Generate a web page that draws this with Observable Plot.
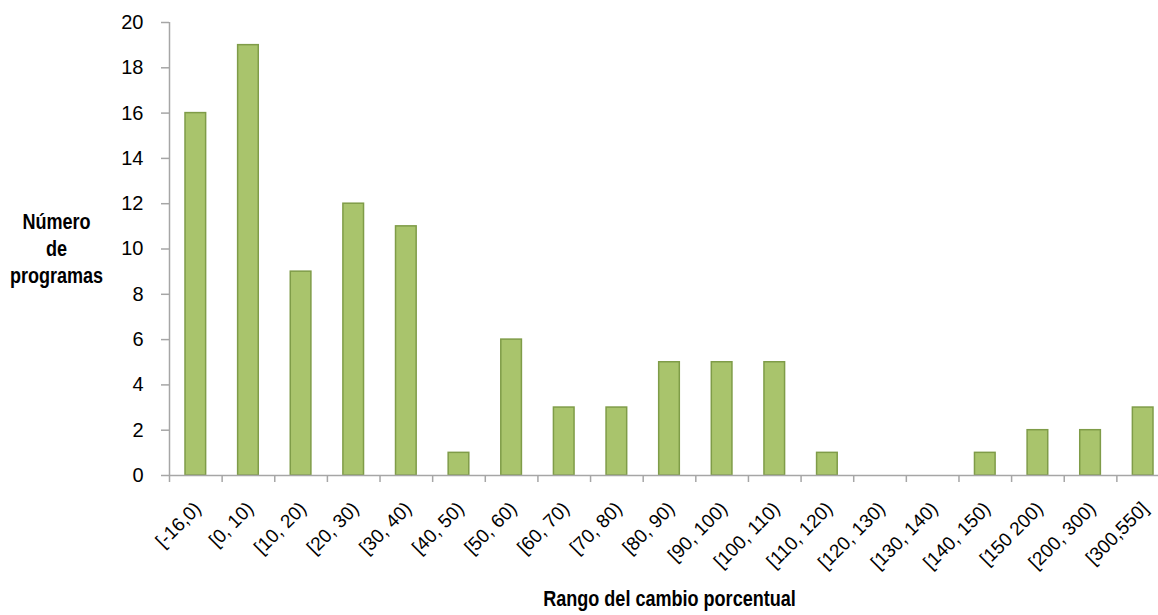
<!DOCTYPE html>
<html>
<head>
<meta charset="utf-8">
<script src="https://cdn.jsdelivr.net/npm/d3@7"></script>
<script src="https://cdn.jsdelivr.net/npm/@observablehq/plot@0.6"></script>
<style>
  html, body { margin: 0; padding: 0; background: #fff; overflow: hidden; }
  #chart { width: 1158px; height: 615px; overflow: hidden; }
  #chart svg { max-width: none !important; }
</style>
</head>
<body>
<div id="chart"></div>
<script>
const categories = ["[-16,0)", "[0, 10)", "[10, 20)", "[20, 30)", "[30, 40)", "[40, 50)", "[50, 60)", "[60, 70)", "[70, 80)", "[80, 90)", "[90, 100)", "[100, 110)", "[110, 120)", "[120, 130)", "[130, 140)", "[140, 150)", "[150 200)", "[200, 300)", "[300,550]"];
const counts = [16, 19, 9, 12, 11, 1, 6, 3, 3, 5, 5, 5, 1, 0, 0, 1, 2, 2, 3];
const yTicks = [0, 2, 4, 6, 8, 10, 12, 14, 16, 18, 20];
const xTitle = "Rango del cambio porcentual";
const yTitle = "Número\nde\nprogramas";

const data = categories.map((c, i) => ({range: c, count: counts[i]}));

const W = 1169, ML = 169, MR = 0;
const step = (W - ML - MR) / categories.length;
const axisGray = "#A6A6A6";

const chart = Plot.plot({
  width: W,
  height: 615,
  marginLeft: ML,
  marginRight: MR,
  marginTop: 22,
  marginBottom: 140,
  style: {fontFamily: "'Liberation Sans', Arial, sans-serif", fontSize: "20px", color: "#000", background: "#fff", overflow: "visible", maxWidth: "none"},
  x: {domain: categories, padding: 0, round: false, axis: null, label: null},
  y: {domain: [0, 20], axis: null, label: null},
  marks: [
    Plot.barY(data.filter(d => d.count > 0), {
      x: "range", y: "count",
      fill: "#A9C46C", stroke: "#7F9C48", strokeWidth: 1.5,
      insetLeft: 16, insetRight: 16
    }),
    Plot.ruleX([categories[0]], {dx: -step / 2, y1: 0, y2: 20, stroke: axisGray, strokeWidth: 1.5}),
    Plot.ruleY([0], {stroke: axisGray, strokeWidth: 1.5}),
    Plot.axisY({ticks: yTicks, tickSize: 8, tickPadding: 18, stroke: axisGray, strokeWidth: 1.5, fontSize: 20, label: null, tickFormat: d => String(d)}),
    Plot.axisX({ticks: categories, tickSize: 7, tickFormat: () => "", dx: -step / 2, stroke: axisGray, strokeWidth: 1.5, label: null}),
    Plot.axisX({ticks: categories, tickSize: 0, tickRotate: -45, tickPadding: 30, dx: 2, fontSize: 19, label: null}),
    Plot.text([xTitle], {text: d => d, frameAnchor: "bottom", dy: 130, fontWeight: "bold", fontSize: 22}),
    Plot.text([yTitle], {text: d => d, frameAnchor: "left", textAnchor: "middle", dx: -113, dy: -2, lineHeight: 1.23, fontWeight: "bold", fontSize: 22})
  ]
});
document.getElementById("chart").appendChild(chart);
// condense the bold titles horizontally (the original uses a condensed face)
d3.select(chart).selectAll("g[font-weight='bold'] text").each(function() {
  const t = d3.select(this);
  const spans = t.selectAll("tspan");
  const targets = spans.empty() ? [this] : spans.nodes();
  for (const el of targets) {
    const len = el.getComputedTextLength();
    if (len > 0) {
      el.setAttribute("textLength", (len * 0.82).toFixed(1));
      el.setAttribute("lengthAdjust", "spacingAndGlyphs");
    }
  }
});
</script>
</body>
</html>
